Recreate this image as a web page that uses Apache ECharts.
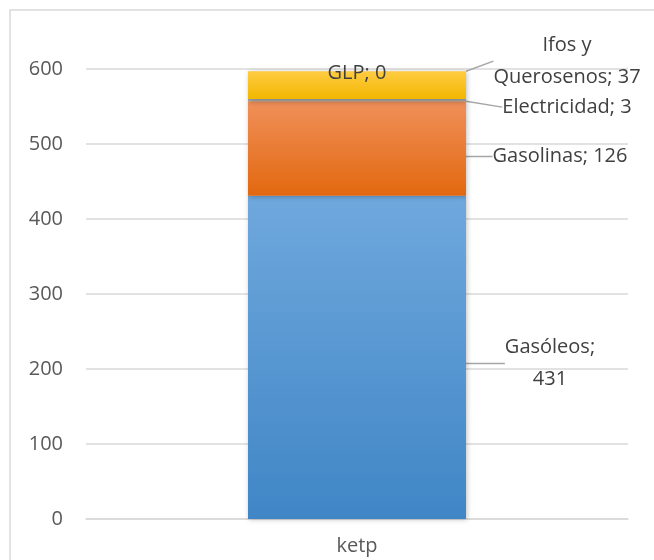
<!DOCTYPE html>
<html><head><meta charset="utf-8">
<script src="https://cdn.jsdelivr.net/npm/echarts@6/dist/echarts.min.js"></script>
<style>html,body{margin:0;padding:0;background:#fff}#c{width:654px;height:560px}</style>
</head><body><div id="c"></div>
<script>
const categories = ['ketp'];
const seriesNames = ['Gasóleos', 'Gasolinas', 'Electricidad', 'Ifos y Querosenos', 'GLP'];
const gasoleos = [431];
const gasolinas = [126];
const electricidad = [3];
const ifos = [37];
const glp = [0];
const yTicks = [0, 100, 200, 300, 400, 500, 600];

const FONT = '"Open Sans", "Liberation Sans", sans-serif';
const grad = (a, b) => new echarts.graphic.LinearGradient(0, 0, 0, 1, [{offset: 0, color: a}, {offset: 1, color: b}]);

const labelTexts = ['Gasóleos;\n{v}', 'Gasolinas; {v}', 'Electricidad; {v}', 'Ifos y\nQuerosenos; {v}', 'GLP; {v}'];
const fills = [
  grad('#6fa8dd', '#4086c6'),
  grad('#f0905a', '#e2680f'),
  '#a5a5a5',
  grad('#ffcb42', '#f2b700'),
  '#ffd966'
];
const layoutOffsets = [
  {dx: 84, dy: 6, inside: false},
  {dx: 94, dy: 8, inside: false},
  {dx: 101, dy: 7, inside: false},
  {dx: 101, dy: -24, inside: false},
  {dx: 0, dy: 2, inside: true}
];
const dataArr = [gasoleos, gasolinas, electricidad, ifos, glp];

const series = seriesNames.map((name, i) => ({
  name: name,
  type: 'bar',
  stack: 'total',
  barWidth: 218,
  data: dataArr[i],
  itemStyle: {
    color: fills[i],
    shadowColor: 'rgba(0,0,0,0.25)',
    shadowBlur: 5,
    shadowOffsetX: 1,
    shadowOffsetY: 1
  },
  label: {
    show: true,
    position: 'inside',
    formatter: p => labelTexts[i].replace('{v}', p.value),
    color: '#404040',
    fontFamily: FONT,
    fontSize: 20,
    lineHeight: 32,
    align: 'center',
    verticalAlign: 'middle'
  },
  labelLine: {
    show: true,
    lineStyle: {color: '#a6a6a6', width: 1.5}
  },
  labelLayout: function (params) {
    const r = params.rect;
    const o = layoutOffsets[i];
    if (o.inside) {
      return {x: r.x + r.width / 2, y: r.y + r.height / 2 + o.dy, align: 'center', verticalAlign: 'middle'};
    }
    return {x: r.x + r.width + o.dx, y: r.y + r.height / 2 + o.dy, align: 'center', verticalAlign: 'middle'};
  }
}));

const chart = echarts.init(document.getElementById('c'), null, {renderer: 'canvas'});
chart.setOption({
  animation: false,
  backgroundColor: '#fff',
  graphic: [{
    type: 'rect',
    shape: {x: 10, y: 10, width: 700, height: 600},
    style: {fill: 'none', stroke: '#d9d9d9', lineWidth: 1.5},
    silent: true,
    z: -1
  }],
  grid: {left: 86, right: 26, top: 69, bottom: 41},
  xAxis: {
    type: 'category',
    data: categories,
    axisLine: {show: true, lineStyle: {color: '#d9d9d9', width: 1.5}},
    axisTick: {show: false},
    axisLabel: {color: '#595959', fontFamily: FONT, fontSize: 20, margin: 17}
  },
  yAxis: {
    type: 'value',
    min: yTicks[0],
    max: yTicks[yTicks.length - 1],
    interval: 100,
    axisLine: {show: false},
    axisTick: {show: false},
    splitLine: {lineStyle: {color: '#d9d9d9', width: 1.5}},
    axisLabel: {color: '#595959', fontFamily: FONT, fontSize: 20, margin: 23}
  },
  series: series
});
</script>
</body></html>
